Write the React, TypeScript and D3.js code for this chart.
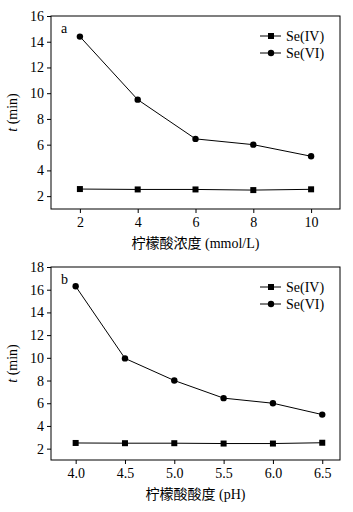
import { useEffect, useRef } from 'react';
import * as d3 from 'd3';

// panel a: citric acid concentration
const concX = [2, 4, 6, 8, 10];
const concSe4 = [2.55, 2.52, 2.52, 2.47, 2.53];
const concSe6 = [14.4, 9.5, 6.45, 6.0, 5.1];
const concTicksY = [2, 4, 6, 8, 10, 12, 14, 16];

// panel b: pH
const phX = [4.0, 4.5, 5.0, 5.5, 6.0, 6.5];
const phSe4 = [2.5, 2.48, 2.48, 2.45, 2.45, 2.52];
const phSe6 = [16.3, 9.95, 8.0, 6.45, 6.0, 5.0];
const phTicksY = [2, 4, 6, 8, 10, 12, 14, 16, 18];

const seriesNames = ['Se(IV)', 'Se(VI)'];

const FONT = '"Liberation Serif", "Noto Sans CJK SC", serif';

interface PanelOpts {
  top: number;
  bottom: number;
  xs: number[];
  s4: number[];
  s6: number[];
  xDomain: [number, number];
  yDomain: [number, number];
  yTicks: number[];
  xFormat: (d: number) => string;
  letter: string;
  xLabel: string;
}

const App = () => {
  const ref = useRef<SVGSVGElement>(null);

  useEffect(() => {
    if (!ref.current) return;
    const root = d3.select(ref.current);
    root.selectAll('*').remove();

    const left = 51;
    const right = 340;

    const drawPanel = (o: PanelOpts) => {
      const g = root.append('g');
      const x = d3.scaleLinear().domain(o.xDomain).range([left, right]);
      const y = d3.scaleLinear().domain(o.yDomain).range([o.bottom, o.top]);

      // frame
      g.append('rect')
        .attr('x', left)
        .attr('y', o.top)
        .attr('width', right - left)
        .attr('height', o.bottom - o.top)
        .attr('fill', 'none')
        .attr('stroke', '#000')
        .attr('stroke-width', 1);

      const yAxis = g.append('g')
        .attr('transform', `translate(${left},0)`)
        .call(d3.axisLeft(y).tickValues(o.yTicks).tickSize(4).tickPadding(3).tickFormat(d => `${d}`));
      yAxis.select('.domain').remove();
      yAxis.selectAll('text').style('font-family', FONT).style('font-size', '14px').attr('fill', '#000');

      const xAxis = g.append('g')
        .attr('transform', `translate(0,${o.bottom})`)
        .call(d3.axisBottom(x).tickValues(o.xs).tickSize(4).tickPadding(4).tickFormat(d => o.xFormat(d as number)));
      xAxis.select('.domain').remove();
      xAxis.selectAll('text').style('font-family', FONT).style('font-size', '14px').attr('fill', '#000');

      const line = d3.line<number>()
        .x((_, i) => x(o.xs[i]))
        .y(d => y(d));

      [o.s4, o.s6].forEach((s, k) => {
        g.append('path')
          .datum(s)
          .attr('fill', 'none')
          .attr('stroke', '#000')
          .attr('stroke-width', 1)
          .attr('d', line);
        if (k === 0) {
          g.selectAll(null)
            .data(s)
            .enter()
            .append('rect')
            .attr('x', (_, i) => x(o.xs[i]) - 3)
            .attr('y', d => y(d) - 3)
            .attr('width', 6)
            .attr('height', 6)
            .attr('fill', '#000');
        } else {
          g.selectAll(null)
            .data(s)
            .enter()
            .append('circle')
            .attr('cx', (_, i) => x(o.xs[i]))
            .attr('cy', d => y(d))
            .attr('r', 3.2)
            .attr('fill', '#000');
        }
      });

      // legend
      seriesNames.forEach((name, k) => {
        const ly = o.top + 20 + k * 17;
        g.append('line')
          .attr('x1', 260).attr('x2', 281)
          .attr('y1', ly).attr('y2', ly)
          .attr('stroke', '#000');
        if (k === 0) {
          g.append('rect').attr('x', 268).attr('y', ly - 3).attr('width', 6).attr('height', 6).attr('fill', '#000');
        } else {
          g.append('circle').attr('cx', 271).attr('cy', ly).attr('r', 3.2).attr('fill', '#000');
        }
        g.append('text')
          .attr('x', 286)
          .attr('y', ly)
          .attr('dy', '0.35em')
          .style('font-family', FONT)
          .style('font-size', '14px')
          .text(name);
      });

      g.append('text')
        .attr('x', 61)
        .attr('y', o.top + 17)
        .style('font-family', FONT)
        .style('font-size', '14px')
        .text(o.letter);

      // y label
      const yl = g.append('text')
        .attr('transform', `translate(17,${(o.top + o.bottom) / 2}) rotate(-90)`)
        .attr('text-anchor', 'middle')
        .style('font-family', FONT)
        .style('font-size', '14px');
      yl.append('tspan').style('font-style', 'italic').text('t');
      yl.append('tspan').text(' (min)');

      g.append('text')
        .attr('x', (left + right) / 2)
        .attr('y', o.bottom + 39)
        .attr('text-anchor', 'middle')
        .style('font-family', FONT)
        .style('font-size', '14px')
        .text(o.xLabel);
    };

    drawPanel({
      top: 16,
      bottom: 209,
      xs: concX,
      s4: concSe4,
      s6: concSe6,
      xDomain: [1, 11],
      yDomain: [1, 16],
      yTicks: concTicksY,
      xFormat: d => `${d}`,
      letter: 'a',
      xLabel: '柠檬酸浓度 (mmol/L)',
    });

    drawPanel({
      top: 267,
      bottom: 460,
      xs: phX,
      s4: phSe4,
      s6: phSe6,
      xDomain: [3.75, 6.68],
      yDomain: [1, 18],
      yTicks: phTicksY,
      xFormat: d => d.toFixed(1),
      letter: 'b',
      xLabel: '柠檬酸酸度 (pH)',
    });
  }, []);

  return (
    <svg
      ref={ref}
      width={353}
      height={512}
      style={{ position: 'absolute', left: 0, top: 0, background: '#fff' }}
    />
  );
};

export default App;
